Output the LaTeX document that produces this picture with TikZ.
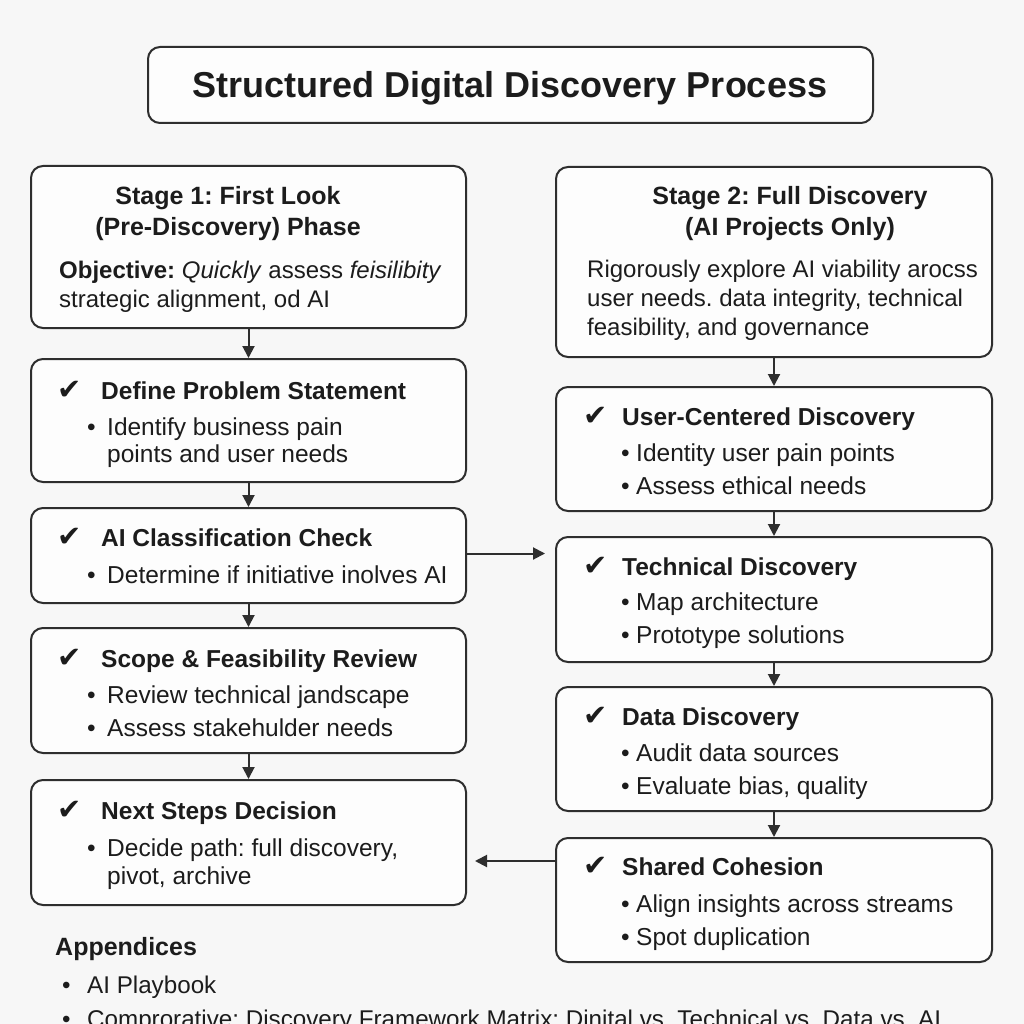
\documentclass[tikz,border=0pt]{standalone}
\usepackage{fontspec}
\setmainfont{Liberation Sans}
\newfontfamily\symfont{DejaVu Sans}
\usepackage{xcolor}
\usetikzlibrary{arrows.meta, positioning}
\frenchspacing

\definecolor{linec}{HTML}{2E2E2E}
\definecolor{inkc}{HTML}{1C1C1C}
\definecolor{bgc}{HTML}{F7F7F7}
\definecolor{boxc}{HTML}{FDFDFD}

\newcommand{\itm}{\makebox[20pt][l]{•}}
\newcommand{\itmr}{\makebox[15pt][l]{•}}
\newcommand{\itma}{\makebox[25pt][l]{•}}

\begin{document}
\begin{tikzpicture}[
    x=1pt, y=-1pt,
    box/.style={draw=linec, line width=2pt, rounded corners=12pt, fill=boxc,
        inner sep=0pt, minimum height=#1},
    lbox/.style={box=#1, minimum width=435pt},
    rbox/.style={box=#1, minimum width=436pt},
    heading/.style={anchor=base west, inner sep=0pt, text=inkc,
        font=\fontsize{24.5}{27}\selectfont\bfseries},
    stagetitle/.style={anchor=center, inner sep=0pt, text=inkc, align=center,
        font=\fontsize{25}{31}\selectfont\bfseries},
    item/.style={anchor=base west, inner sep=0pt, text=inkc, align=left,
        font=\fontsize{24.5}{27}\selectfont},
    tick/.style={anchor=center, inner sep=0pt, text=inkc,
        font=\fontsize{29}{29}\selectfont\symfont},
    arrow/.style={-{Triangle[length=12pt,width=12pt]}, line width=2pt, draw=linec}
]

\useasboundingbox (0,0) rectangle (1024,1024);
\fill[bgc] (0,0) rectangle (1024,1024);

% Title
\node[box=76pt, minimum width=725pt] (title) at (510.5,85) {};
\node[inner sep=0pt, anchor=base, text=inkc, font=\fontsize{36}{36}\selectfont\bfseries]
    (title_txt) at (510,98) {Structured Digital Discovery Process};

% Stage 1 (left column)
\node[lbox=162pt] (stage1) at (248.5,247) {};
\node[stagetitle] (stage1_txt) at (228,214) {Stage 1: First Look\\(Pre-Discovery) Phase};
\node[item, font=\fontsize{24}{29}\selectfont] (stage1_obj) at (59,307)
    {\textbf{Objective:} \textit{Quickly} assess \textit{feisilibity}\\strategic alignment, od AI};

\node[lbox=123pt] (define) at (248.5,420.5) {};
\node[tick] at (70,390) {✔};
\node[heading] (define_head) at (101,399) {Define Problem Statement};
\node[item] (define_a) at (87,462) {\itm Identify business pain\\\hspace*{20pt}points and user needs};

\node[lbox=95pt] (classify) at (248.5,555.5) {};
\node[tick] at (70,537) {✔};
\node[heading] (classify_head) at (101,546) {AI Classification Check};
\node[item] (classify_a) at (87,583) {\itm Determine if initiative inolves AI};

\node[lbox=125pt] (scope) at (248.5,690.5) {};
\node[tick] at (70,658) {✔};
\node[heading] (scope_head) at (101,667) {Scope \& Feasibility Review};
\node[item] (scope_a) at (87,703) {\itm Review technical jandscape};
\node[item] (scope_b) at (87,736) {\itm Assess stakehulder needs};

\node[lbox=125pt] (next) at (248.5,842.5) {};
\node[tick] at (70,810) {✔};
\node[heading] (next_head) at (101,819) {Next Steps Decision};
\node[item, font=\fontsize{24.5}{28}\selectfont] (next_a) at (87,884)
    {\itm Decide path: full discovery,\\\hspace*{20pt}pivot, archive};

% Stage 2 (right column)
\node[rbox=190pt] (stage2) at (774,262) {};
\node[stagetitle] (stage2_txt) at (790,214) {Stage 2: Full Discovery\\(AI Projects Only)};
\node[item, font=\fontsize{24}{29}\selectfont] (stage2_obj) at (587,335)
    {Rigorously explore AI viability arocss\\user needs. data integrity, technical\\feasibility, and governance};

\node[rbox=124pt] (user) at (774,449) {};
\node[tick] at (596,416) {✔};
\node[heading] (user_head) at (622,425) {User-Centered Discovery};
\node[item] (user_a) at (621,461) {\itmr Identity user pain points};
\node[item] (user_b) at (621,494) {\itmr Assess ethical needs};

\node[rbox=125pt] (tech) at (774,599.5) {};
\node[tick] at (596,566) {✔};
\node[heading] (tech_head) at (622,575) {Technical Discovery};
\node[item] (tech_a) at (621,610) {\itmr Map architecture};
\node[item] (tech_b) at (621,643) {\itmr Prototype solutions};

\node[rbox=124pt] (data) at (774,749) {};
\node[tick] at (596,716) {✔};
\node[heading] (data_head) at (622,725) {Data Discovery};
\node[item] (data_a) at (621,761) {\itmr Audit data sources};
\node[item] (data_b) at (621,794) {\itmr Evaluate bias, quality};

\node[rbox=124pt] (shared) at (774,900) {};
\node[tick] at (596,866) {✔};
\node[heading] (shared_head) at (622,875) {Shared Cohesion};
\node[item] (shared_a) at (621,912) {\itmr Align insights across streams};
\node[item] (shared_b) at (621,945) {\itmr Spot duplication};

% Arrows
\draw[arrow] (stage1) -- (define);
\draw[arrow] (define) -- (classify);
\draw[arrow] (classify) -- (scope);
\draw[arrow] (scope) -- (next);
\draw[arrow] (stage2) -- (user);
\draw[arrow] (user) -- (tech);
\draw[arrow] (tech) -- (data);
\draw[arrow] (data) -- (shared);
\draw[arrow, shorten >=10pt] ([yshift=2pt]classify.east) -- ([yshift=2pt]classify.east -| tech.west);
\draw[arrow, shorten >=8pt] ([yshift=39pt]shared.west) -- ([yshift=39pt]shared.west -| next.east);

% Appendices
\node[heading, font=\fontsize{25}{27}\selectfont\bfseries] (appx) at (55,955) {Appendices};
\node[item, font=\fontsize{24.2}{27}\selectfont] (appx_a) at (62,993) {\itma AI Playbook};
\node[item, font=\fontsize{24.2}{27}\selectfont] (appx_b) at (62,1027)
    {\itma Comprorative: Discovery Framework Matrix: Dinital vs. Technical vs. Data vs. AI};

\end{tikzpicture}
\end{document}
